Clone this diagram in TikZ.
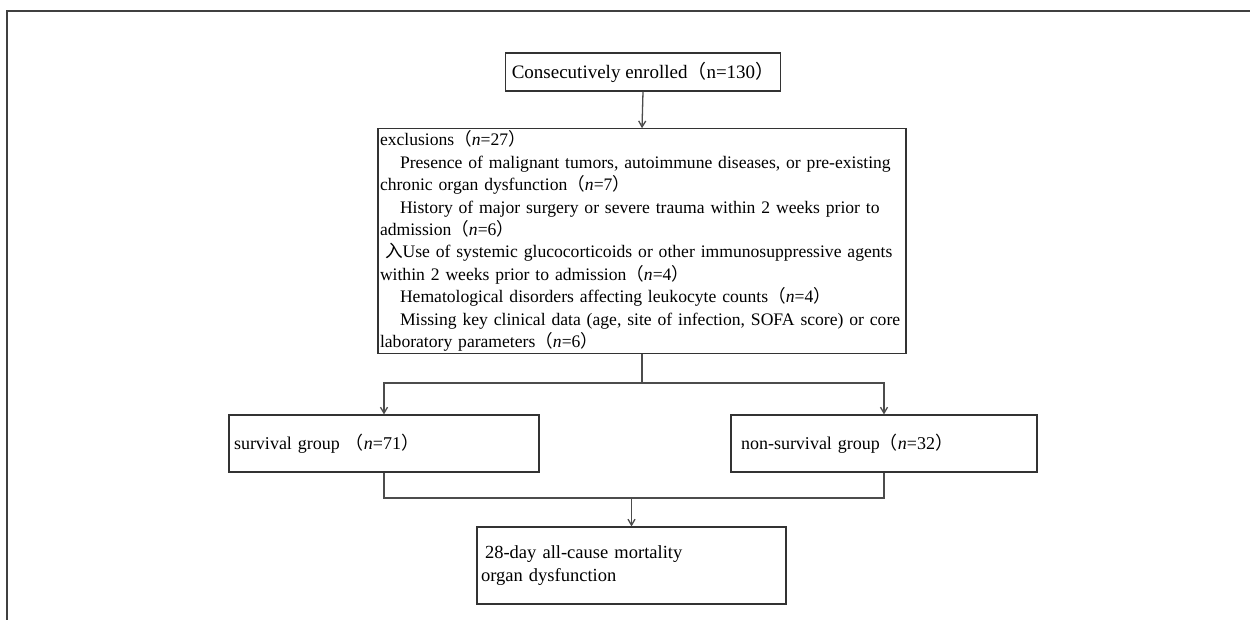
\documentclass[tikz,border=0pt]{standalone}
\usepackage{fontspec}
\setmainfont{Liberation Serif}
\newfontfamily\cjk{Noto Sans CJK SC}
\usetikzlibrary{arrows.meta}
\newcommand{\lpar}{{\cjk （}}
\newcommand{\rpar}{{\cjk ）}}
\newcommand{\ind}{\hspace*{20pt}}
\tikzset{
  box/.style={draw=black!80, line width=1.1pt, inner sep=6pt},
  conn/.style={draw=black!70, line width=1.3pt},
  arr/.style={conn, -{Straight Barb[length=6pt,width=7pt]}},
}
\begin{document}
\begin{tikzpicture}[x=1pt,y=-1pt]
\useasboundingbox (0,0) rectangle (1250,620);
\draw[line width=2pt, black!75] (7,620) -- (7,11) -- (1250,11);

\node[box, minimum width=270pt, minimum height=38pt, font=\fontsize{19pt}{22pt}\selectfont] (top) at (643,72) {Consecutively enrolled\lpar n=130\rpar};

\node[box, minimum width=528pt, minimum height=224pt, text width=524pt, inner sep=2pt, align=left, font=\fontsize{17.6pt}{22.4pt}\selectfont] (excl) at (642,241) {%
exclusions\lpar\textit{n}=27\rpar\\
\ind Presence of malignant tumors, autoimmune diseases, or pre-existing\\
chronic organ dysfunction\lpar\textit{n}=7\rpar\\
\ind History of major surgery or severe trauma within 2 weeks prior to\\
admission\lpar\textit{n}=6\rpar\\
\hspace*{5pt}{\cjk 入}Use of systemic glucocorticoids or other immunosuppressive agents\\
within 2 weeks prior to admission\lpar\textit{n}=4\rpar\\
\ind Hematological disorders affecting leukocyte counts\lpar\textit{n}=4\rpar\\
\ind Missing key clinical data (age, site of infection, SOFA score) or core\\
laboratory parameters\lpar\textit{n}=6\rpar};

\node[box, minimum width=310pt, minimum height=57pt, text width=300pt, inner sep=5pt, align=left, font=\fontsize{18pt}{22pt}\selectfont] (surv) at (384,443.5) {survival group \lpar\textit{n}=71\rpar};
\node[box, minimum width=306pt, minimum height=57pt, text width=296pt, inner sep=5pt, align=left, font=\fontsize{18pt}{22pt}\selectfont] (nons) at (884,443.5) {\hspace*{5pt}non-survival group\lpar\textit{n}=32\rpar};

\node[box, minimum width=309pt, minimum height=77pt, text width=301pt, inner sep=4pt, align=left, font=\fontsize{18.5pt}{22.4pt}\selectfont] (bot) at (631.5,565.5) {\hspace*{4pt}28-day all-cause mortality\\organ dysfunction};

\coordinate (split) at (642,383);
\coordinate (join) at (631.5,498);

\draw[arr] (top.south) -- (excl.north);
\draw[conn] (excl.south) -- (split);
\draw[arr] (split) -| (surv.north);
\draw[arr] (split) -| (nons.north);
\draw[conn] (surv.south) -- (surv.south |- join) -- (nons.south |- join) -- (nons.south);
\draw[arr] (join) -- (bot.north);
\end{tikzpicture}
\end{document}
